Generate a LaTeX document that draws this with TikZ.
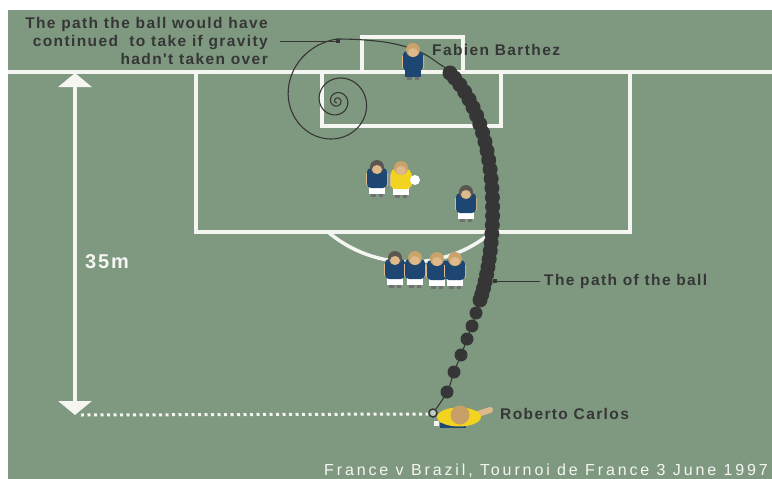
\documentclass[tikz,border=0pt]{standalone}
\usepackage{fontspec}
\setmainfont{Liberation Sans}
\newfontfamily\labelfont[LetterSpace=9]{Liberation Sans}
\newfontfamily\footfont[LetterSpace=18]{Liberation Sans}
\usetikzlibrary{arrows.meta}

\definecolor{pitch}{HTML}{7F9980}
\definecolor{chalk}{HTML}{F5F5F2}
\definecolor{ink}{HTML}{363636}
\definecolor{navy}{HTML}{1E4672}
\definecolor{canary}{HTML}{F2D31F}
\definecolor{skin}{HTML}{DDB98C}
\definecolor{blond}{HTML}{C9A36A}
\definecolor{darkhair}{HTML}{5B5652}
\definecolor{boots}{HTML}{707070}

\tikzset{
  line/.style={chalk, line width=3.5pt},
  flight/.style={ink, line width=1.1pt},
  bead/.style={circle, fill=ink, inner sep=0pt, minimum size=15pt},
  leader/.style={ink, line width=1pt},
  caption/.style={ink, inner sep=0pt, font=\labelfont\bfseries\fontsize{15.5}{18}\selectfont},
  pics/player/.style n args={3}{code={
    \fill[skin, rounded corners=1.5pt] (-11,5) rectangle (-7,19);
    \fill[skin, rounded corners=1.5pt] (7,5) rectangle (11,19);
    \fill[boots] (-6,26) rectangle (-1.5,30);
    \fill[boots] (1.5,26) rectangle (6,30);
    \fill[#3] (-8,18) rectangle (8,27);
    \fill[#1, rounded corners=4pt] (-10,1) rectangle (10,21);
    \fill[#2] (0,0) circle[radius=7];
    \fill[skin] (0,2.5) ellipse[x radius=5, y radius=4.5];
  }}
}

\begin{document}
\begin{tikzpicture}[x=1pt, y=-1pt]
    \useasboundingbox (0,0) rectangle (772,479);
    \fill[white] (0,0) rectangle (772,479);
    \fill[pitch] (8,10) rectangle (772,479);

    \coordinate (disttop) at (75,73);
    \coordinate (distbot) at (75,415);
    \coordinate (kick) at (433,413);
    \coordinate (kickspot) at (428,414);
    \coordinate (spiraldot) at (338,41);
    \coordinate (pathdot) at (495,281);
    \coordinate (curl) at (480,300);
    \coordinate (dip) at (450,73);

    \draw[line] (8,72) -- (772,72);
    \draw[line] (362,72) |- (463,37) -- (463,72);
    \draw[line] (196,72) |- (630,232) -- (630,72);
    \draw[line] (322,72) |- (501,126) -- (501,72);
    \draw[line] (328,232) arc[start angle=130.2, end angle=49.8, radius=127];

    \draw[line, {Triangle[width=33pt,length=14pt]}-{Triangle[width=33pt,length=14pt]}] (disttop) -- (distbot);
    \draw[chalk, line width=3pt, dash pattern=on 3pt off 3.5pt] ([xshift=6pt]distbot) -- (kickspot);
    \node[chalk, anchor=west, inner sep=0pt, font=\labelfont\bfseries\fontsize{20}{24}\selectfont] (dist) at (85,262) {35m};

    \draw[flight] plot[smooth, tension=0.7] coordinates {(433,413) (447,392) (454,372) (461,355) (467,339) (476,313) (485,280) (491,240) (493,200) (488,160) (476,120) (462,94) (450,73) (438,63) (420,52) (395,44) (365,40) (337,39)}
        -- plot[domain=0:1260, samples=260, variable=\a] ({337+62*exp(-0.16*\a/57.2958)*cos(270-\a)}, {101+62*exp(-0.16*\a/57.2958)*sin(270-\a)});

    \pic at (413,50) {player={navy}{blond}{navy}};
    \pic at (377,167) {player={navy}{darkhair}{white}};
    \pic at (401,168) {player={canary}{blond}{white}};
    \fill[white] (415,180) circle[radius=5];
    \pic at (466,192) {player={navy}{darkhair}{white}};
    \pic at (395,258) {player={navy}{darkhair}{white}};
    \pic at (415,258) {player={navy}{blond}{white}};
    \pic at (437,259) {player={navy}{blond}{white}};
    \pic at (455,259) {player={navy}{blond}{white}};

    \foreach \p in {(447,392),(454,372),(461,355),(467,339),(472,326),(476,313)}
        \fill[ink] \p circle[radius=6.5];
    \path (curl) .. controls (497,250) and (505,130) .. (dip)
        foreach \t [count=\i] in {0,0.036,...,1.001} {node[bead, pos=\t] (bead\i) {}};
    \node[bead] (beadtop) at (dip) {};

    \draw[skin, line width=6pt, line cap=round] (478,414) -- (490,410);
    \fill[navy] (440,423) rectangle (466,428);
    \fill[chalk] (434,421) rectangle (439,426);
    \fill[canary] (459,417) ellipse[x radius=22, y radius=9.5];
    \fill[blond!90!brown] (460,415) circle[radius=9.5];
    \draw[ink, line width=1.5pt, fill=pitch!50!white] (kick) circle[radius=4];

    \node[caption, anchor=east, align=right, inner xsep=12pt] (spiraltext) at (280,41)
        {The path the ball would have\\continued\ \ to take if gravity\\hadn't taken over};
    \draw[leader] (spiraltext.east) -- (spiraldot);
    \fill[ink] (spiraldot) ++(-2,-2) rectangle ++(4,4);

    \node[caption, anchor=west] (keeper) at (432,50) {Fabien Barthez};

    \node[caption, anchor=west, inner xsep=4pt] (pathtext) at (540,281) {The path of the ball};
    \draw[leader] (pathdot) -- (pathtext.west);
    \fill[ink] (pathdot) ++(-2,-2) rectangle ++(4,4);

    \node[caption, anchor=west] (carlos) at (500,414) {Roberto Carlos};

    \node[chalk, anchor=west, inner sep=0pt, font=\footfont\fontsize{16}{19}\selectfont] (match) at (324,471)
        {France v Brazil, Tournoi de France 3 June 1997};
\end{tikzpicture}
\end{document}
